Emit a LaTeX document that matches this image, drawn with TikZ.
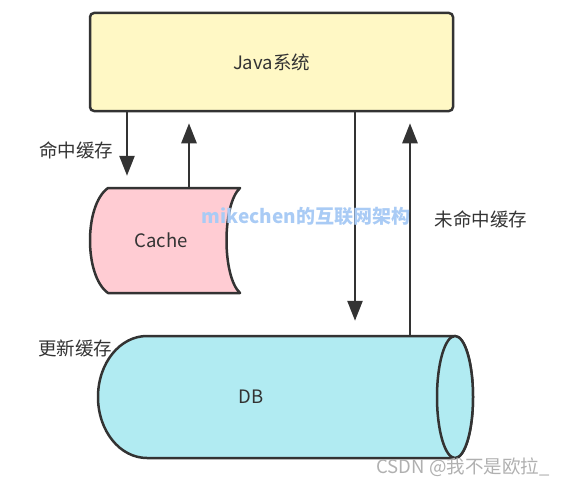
\documentclass[tikz,border=0pt]{standalone}
\usepackage{fontspec}
\setmainfont{Noto Sans CJK SC}
\usetikzlibrary{arrows.meta}
\definecolor{javafill}{HTML}{FFF8C5}
\definecolor{cachefill}{HTML}{FFCCD3}
\definecolor{dbfill}{HTML}{B1EBF2}
\definecolor{edge}{HTML}{333333}
\definecolor{txt}{HTML}{333333}
\definecolor{wmblue}{HTML}{A9CBF5}
\definecolor{wmgray}{HTML}{B0B0B0}
\begin{document}
\begin{tikzpicture}[x=1pt,y=-1pt,
  lbl/.style={font=\fontsize{18.5}{22}\selectfont, text=txt, inner sep=0pt},
  shapeline/.style={draw=edge, line width=2.5pt, line join=round},
  arr/.style={draw=edge, line width=2.5pt, -{Triangle[width=15pt,length=20pt]}},
  ghost/.style={draw=none, fill=none, inner sep=0pt}]
\useasboundingbox (0,0) rectangle (576,487);
% Java system box
\node[shapeline, fill=javafill, rounded corners=4pt, minimum width=363pt, minimum height=98pt, lbl] (java) at (271.5,62) {Java系统};
% Cache storage shape
\path[shapeline, fill=cachefill] (108,188) -- (240,188) .. controls (222,205) and (222,276) .. (240,293) -- (108,293) .. controls (84,276) and (84,205) .. (108,188) -- cycle;
\node[ghost, minimum width=150pt, minimum height=105pt] (cache) at (165,240.5) {};
\node[lbl] (cachetxt) at (161,240) {Cache};
% DB horizontal cylinder
\path[shapeline, fill=dbfill] (455,336) -- (147,336) .. controls (120,336) and (98,363) .. (98,397) .. controls (98,431) and (120,458) .. (147,458) -- (455,458) .. controls (465,458) and (473,431) .. (473,397) .. controls (473,363) and (465,336) .. (455,336) -- cycle;
\path[shapeline, fill=dbfill] (455,397) ellipse [x radius=18pt, y radius=61pt];
\node[ghost, minimum width=375pt, minimum height=122pt] (db) at (285.5,397) {};
\node[lbl] (dbtxt) at (251,397) {DB};
% connector x positions
\coordinate (x1) at (127,0);
\coordinate (x2) at (189,0);
\coordinate (x3) at (355,0);
\coordinate (x4) at (410,0);
\draw[arr, shorten >=12pt] (x1 |- java.south) -- (x1 |- cache.north);
\draw[arr, shorten >=11pt] (x2 |- cache.north) -- (x2 |- java.south);
\draw[arr, shorten >=15pt] (x3 |- java.south) -- (x3 |- db.north);
\draw[arr, shorten >=11pt] (x4 |- db.north) -- (x4 |- java.south);
% labels
\node[lbl] (hit) at (76,150) {命中缓存};
\node[lbl] (miss) at (481,219) {未命中缓存};
\node[lbl] (upd) at (75,348) {更新缓存};
% watermarks
\node[inner sep=0pt, text=wmblue, font=\fontsize{19}{22}\selectfont\bfseries] (wm) at (306,216) {mikechen的互联网架构};
\node[inner sep=0pt, text=wmgray, font=\fontsize{18.5}{22}\selectfont] (csdn) at (463,467) {CSDN @我不是欧拉\_};
\end{tikzpicture}
\end{document}
